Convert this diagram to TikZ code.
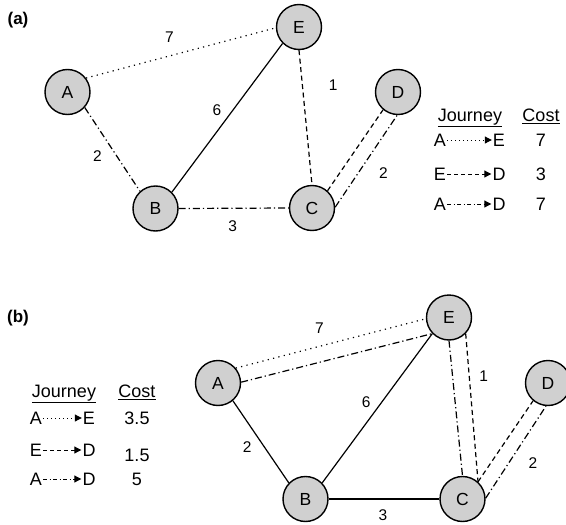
\documentclass[tikz,border=0pt]{standalone}
\usepackage{fontspec}
\setmainfont{Liberation Sans}
\usetikzlibrary{arrows.meta,positioning}
\definecolor{nodegray}{RGB}{208,208,208}
\tikzset{
  city/.style={circle,draw,line width=1.4pt,fill=nodegray,minimum size=45pt,inner sep=0pt,font=\fontsize{17.5}{19}\selectfont},
  cost/.style={font=\fontsize{15.5}{17}\selectfont,inner sep=1pt},
  tab/.style={font=\fontsize{18}{20}\selectfont,inner sep=1pt},
  tabhead/.style={tab,anchor=base},
  panel/.style={font=\fontsize{17}{19}\selectfont\bfseries},
  fullline/.style={line width=1.2pt},
  dotline/.style={line width=1.2pt,dash pattern=on 1.2pt off 4.3pt},
  dashline/.style={line width=1.2pt,dash pattern=on 5pt off 3.5pt},
  dotdashline/.style={line width=1.2pt,dash pattern=on 7pt off 3pt on 1.2pt off 3pt},
  trip/.style={-{Triangle[length=7pt,width=7pt]}}
}
\begin{document}
\begin{tikzpicture}[x=1pt,y=-1pt]
    \useasboundingbox (0,0) rectangle (566,525);
    % (a)
    \node[panel] (pa) at (18,20) {(a)};
    \node[city] (A1) at (67.5,92) {A};
    \node[city] (E1) at (299,27) {E};
    \node[city] (D1) at (398,92) {D};
    \node[city] (B1) at (155.5,208.5) {B};
    \node[city] (C1) at (312,208) {C};
    \path (A1.37) edge [dotline] node [cost,pos=0.44,above=12pt] {7} (E1.182);
    \path (A1.318) edge [dotdashline] node [cost,pos=0.58,left=13.5pt] {2} (B1.132);
    \path (B1.45) edge [fullline] node [cost,pos=0.55,left=10pt] {6} (E1.225);
    \path (E1.270) edge [dashline] node [cost,pos=0.26,right=25pt] {1} (C1.90);
    \path (B1.0) edge [dotdashline] node [cost,pos=0.49,below=11pt] {3} (C1.180);
    \path (C1.48) edge [dashline] (D1.230);
    \path (C1.2) edge [dotdashline] node [cost,pos=0.37,right=19.5pt] {2} (D1.268);
    % table (a)
    \node[tabhead] (J1) at (470,121.5) {\underline{Journey}};
    \node[tabhead] (K1) at (541,121.5) {\underline{Cost}};
    \node[tab] (A1_1) at (440,140) {A};
    \node[tab] (A1_2) at (499,140) {E};
    \node[tab] (A1_3) at (541,140) {7};
    \node[tab] (A2_1) at (440,174) {E};
    \node[tab] (A2_2) at (499,174) {D};
    \node[tab] (A2_3) at (541,174) {3};
    \node[tab] (A3_1) at (440,204) {A};
    \node[tab] (A3_2) at (499,204) {D};
    \node[tab] (A3_3) at (541,204) {7};
    \draw[trip,line width=1pt,dash pattern=on 1pt off 3pt] (A1_1) -- (A1_2);
    \draw[trip,line width=1pt,dash pattern=on 4pt off 3pt] (A2_1) -- (A2_2);
    \draw[trip,line width=1pt,dash pattern=on 4pt off 2.5pt on 1pt off 2.5pt] (A3_1) -- (A3_2);
    % (b)
    \node[panel] (pb) at (18,318) {(b)};
    \node[city] (A2) at (218,383) {A};
    \node[city] (E2) at (449,317.5) {E};
    \node[city] (D2) at (548,383) {D};
    \node[city] (B2) at (305.5,499) {B};
    \node[city] (C2) at (462.5,499) {C};
    \path (A2.40) edge [dotline] node [cost,pos=0.44,above=11pt] {7} (E2.183);
    \path (A2.2) edge [dotdashline] (E2.224);
    \path (A2.310) edge [fullline] node [cost,pos=0.56,left=11pt] {2} (B2.136);
    \path (B2.44) edge [fullline] node [cost,pos=0.54,left=9.5pt] {6} (E2.224);
    \path (B2.0) edge [fullline] node [cost,pos=0.49,below=9.5pt] {3} (C2.180);
    \path (E2.270) edge [dotdashline] (C2.90);
    \path (E2.316) edge [dashline] node [cost,pos=0.29,right=8.5pt] {1} (C2.48);
    \path (C2.48) edge [dashline] (D2.230);
    \path (C2.2) edge [dotdashline] node [cost,pos=0.38,right=18.5pt] {2} (D2.265);
    % table (b)
    \node[tabhead] (J2) at (64,397.5) {\underline{Journey}};
    \node[tabhead] (K2) at (137,397.5) {\underline{Cost}};
    \node[tab] (B1_1) at (36,418) {A};
    \node[tab] (B1_2) at (89,418) {E};
    \node[tab] (B1_3) at (137,418) {3.5};
    \node[tab] (B2_1) at (36,450) {E};
    \node[tab] (B2_2) at (89,450) {D};
    \node[tab] (B2_3) at (137,455) {1.5};
    \node[tab] (B3_1) at (36,479) {A};
    \node[tab] (B3_2) at (89,479) {D};
    \node[tab] (B3_3) at (137,479) {5};
    \draw[trip,line width=1pt,dash pattern=on 1pt off 3pt] (B1_1) -- (B1_2);
    \draw[trip,line width=1pt,dash pattern=on 4pt off 3pt] (B2_1) -- (B2_2);
    \draw[trip,line width=1pt,dash pattern=on 4pt off 2.5pt on 1pt off 2.5pt] (B3_1) -- (B3_2);
\end{tikzpicture}
\end{document}
